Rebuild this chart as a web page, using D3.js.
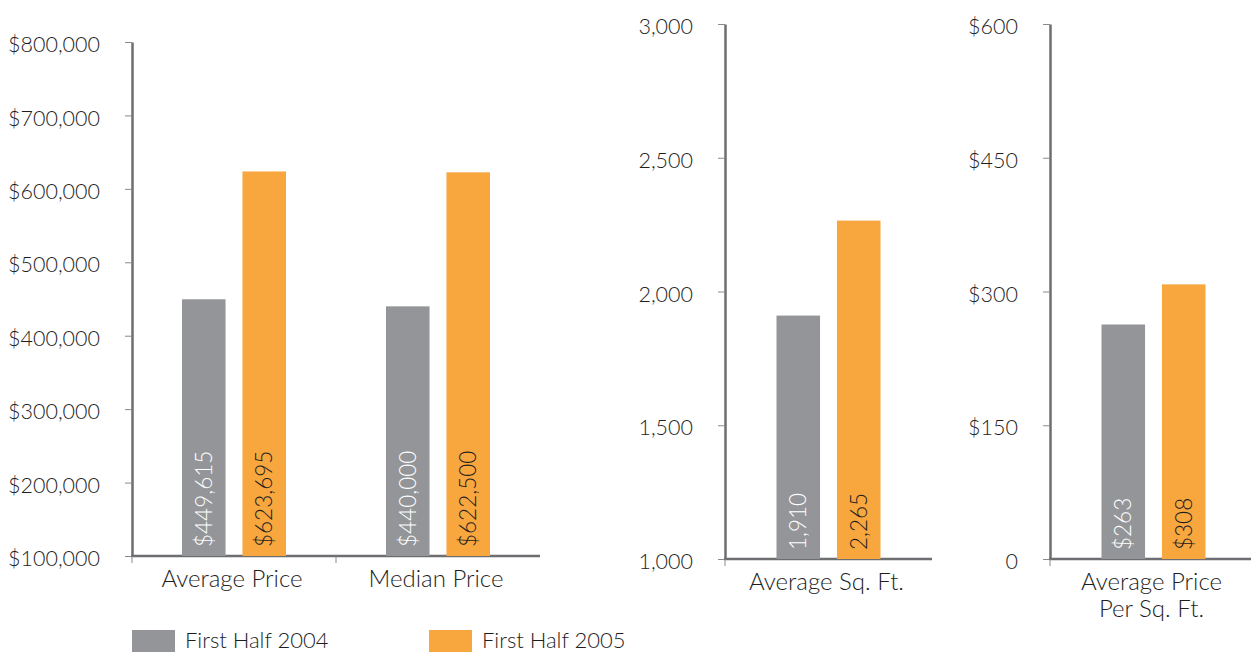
<!DOCTYPE html>
<html>
<head>
<meta charset="utf-8">
<script src="https://cdn.jsdelivr.net/npm/d3@7"></script>
<style>
  body { margin: 0; background: #fff; }
  svg text { font-family: Lato, "Open Sans", sans-serif; font-weight: 300; fill: #1e1e1e; }
</style>
</head>
<body>
<div class="chart"></div>
<script>
// data
const series = ["First Half 2004", "First Half 2005"];
const colors = ["#939598", "#f8a63e"];

const priceCats = ["Average Price", "Median Price"];
const price2004 = [449615, 440000];
const price2005 = [623695, 622500];
const priceTicks = [100000, 200000, 300000, 400000, 500000, 600000, 700000, 800000];

const sqftCats = ["Average Sq. Ft."];
const sqft2004 = [1910];
const sqft2005 = [2265];
const sqftTicks = [1000, 1500, 2000, 2500, 3000];

const ppsfCats = ["Average Price\nPer Sq. Ft."];
const ppsf2004 = [263];
const ppsf2005 = [308];
const ppsfTicks = [0, 150, 300, 450, 600];

const W = 1251, H = 652;
const svg = d3.select(".chart").append("svg")
  .attr("width", W).attr("height", H);

const fmtComma = d3.format(",");

function panel(opts) {
  const { cats, v1, v2, yDomain, yRange, xRange, ticks, tickFmt, labelFmt } = opts;
  const g = svg.append("g");
  const x = d3.scaleBand().domain(cats).range(xRange);
  const y = d3.scaleLinear().domain(yDomain).range(yRange);
  const base = yRange[0];

  // y axis
  const yAxis = d3.axisLeft(y)
    .tickValues(ticks)
    .tickFormat(tickFmt)
    .tickSize(7)
    .tickSizeOuter(0)
    .tickPadding(25);
  const ya = g.append("g")
    .attr("transform", `translate(${xRange[0]},0)`)
    .call(yAxis);
  ya.select(".domain").attr("stroke", "#6d6e71").attr("stroke-width", 2.5);
  ya.selectAll(".tick line").attr("stroke", "#8a8a8a").attr("stroke-width", 1);
  ya.selectAll(".tick text")
    .attr("font-size", 21.5)
    .attr("dy", "0.45em")
    .style("font-family", "Lato, sans-serif")
    .style("font-weight", 300)
    .style("fill", "#1e1e1e");

  // x axis line
  g.append("line")
    .attr("x1", xRange[0] - 1).attr("x2", xRange[1])
    .attr("y1", base).attr("y2", base)
    .attr("stroke", "#6d6e71").attr("stroke-width", 2.5);
  g.selectAll(".xtick").data(cats).join("line")
    .attr("class", "xtick")
    .attr("x1", d => x(d)).attr("x2", d => x(d))
    .attr("y1", base).attr("y2", base + 7)
    .attr("stroke", "#8a8a8a").attr("stroke-width", 1);

  // category labels
  const lbl = g.selectAll(".cat").data(cats).join("text")
    .attr("class", "cat")
    .attr("text-anchor", "middle")
    .attr("font-size", 24)
    .attr("x", d => x(d) + x.bandwidth() / 2 - 2)
    .attr("y", base + 31);
  lbl.selectAll("tspan").data(d => d.split("\n")).join("tspan")
    .attr("x", function () { return d3.select(this.parentNode).attr("x"); })
    .attr("dy", (d, i) => i === 0 ? 0 : 27)
    .text(d => d);

  // bars
  const rows = cats.map((c, i) => ({ cat: c, vals: [v1[i], v2[i]] }));
  const grp = g.selectAll(".grp").data(rows).join("g")
    .attr("class", "grp")
    .attr("transform", d => `translate(${x(d.cat) + x.bandwidth() / 2 - 52},0)`);
  const sub = d3.scaleBand().domain([0, 1]).range([0, 104]).paddingInner(0.28);

  grp.selectAll("rect").data(d => d.vals).join("rect")
    .attr("x", (d, i) => sub(i))
    .attr("width", sub.bandwidth())
    .attr("y", d => y(d))
    .attr("height", d => base - y(d))
    .attr("fill", (d, i) => colors[i]);

  grp.selectAll(".val").data(d => d.vals).join("text")
    .attr("class", "val")
    .attr("transform", (d, i) => `translate(${sub(i) + sub.bandwidth() / 2 + 8},${base - 9}) rotate(-90)`)
    .attr("font-size", 22.5)
    .style("fill", (d, i) => i === 0 ? "#fff" : "#1e1e1e")
    .text(d => labelFmt(d));
}

panel({
  cats: priceCats, v1: price2004, v2: price2005,
  yDomain: [100000, 800000], yRange: [556, 42], xRange: [132, 540],
  ticks: priceTicks, tickFmt: d => "$" + fmtComma(d),
  labelFmt: d => "$" + fmtComma(d)
});

panel({
  cats: sqftCats, v1: sqft2004, v2: sqft2005,
  yDomain: [1000, 3000], yRange: [559, 24], xRange: [725, 932],
  ticks: sqftTicks, tickFmt: d => fmtComma(d),
  labelFmt: d => fmtComma(d)
});

panel({
  cats: ppsfCats, v1: ppsf2004, v2: ppsf2005,
  yDomain: [0, 600], yRange: [559, 24], xRange: [1050, 1257],
  ticks: ppsfTicks, tickFmt: d => d === 0 ? "0" : "$" + d,
  labelFmt: d => "$" + d
});

// legend
const legendX = [132, 429];
const leg = svg.selectAll(".leg").data(series).join("g")
  .attr("class", "leg")
  .attr("transform", (d, i) => `translate(${legendX[i]},630)`);
leg.append("rect").attr("width", 43).attr("height", 22).attr("fill", (d, i) => colors[i]);
leg.append("text").attr("x", 53).attr("y", 18).attr("font-size", 22).text(d => d);
</script>
</body>
</html>
